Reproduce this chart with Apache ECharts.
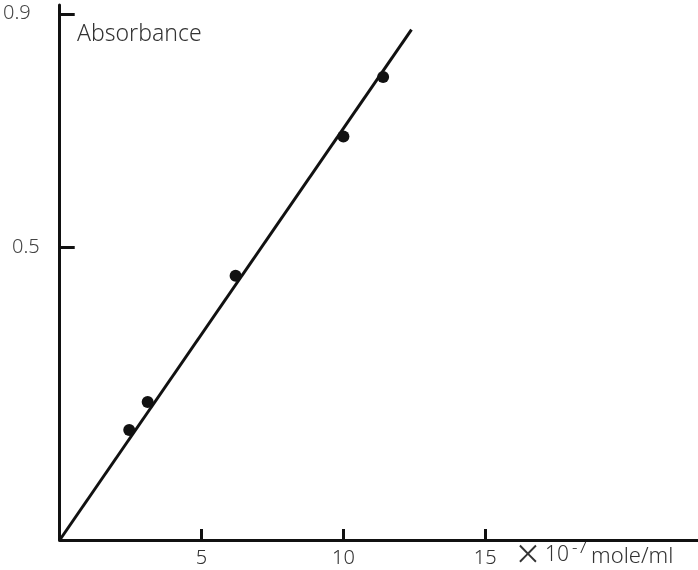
<!DOCTYPE html>
<html><head><meta charset="utf-8">
<script src="https://cdn.jsdelivr.net/npm/echarts@6/dist/echarts.min.js"></script>
<style>html,body{margin:0;padding:0;background:#fff}#c{width:698px;height:570px}</style>
</head><body><div id="c"></div>
<script>
// concentration (×10^-7 mole/ml) and absorbance
const concentration = [2.45, 3.1, 6.2, 10.0, 11.4];
const absorbance = [0.188, 0.236, 0.452, 0.69, 0.792];
const fitLine = [[0, 0], [12.4, 0.873]];
const xTicks = [5, 10, 15];
const yTicks = [0.5, 0.9];

const chart = echarts.init(document.getElementById('c'));
const font = '"Noto Sans", sans-serif';
const txt = { fill: '#333', fontFamily: font, fontWeight: 300 };
chart.setOption({
  backgroundColor: '#fff',
  animation: false,
  grid: { left: 58, right: 0, top: 5, bottom: 30 },
  xAxis: {
    type: 'value', min: 0, max: 22.5,
    splitLine: { show: false },
    axisLine: { lineStyle: { color: '#111', width: 3 } },
    axisTick: { inside: true, length: 11, customValues: xTicks, lineStyle: { color: '#111', width: 3 } },
    axisLabel: { customValues: xTicks, margin: 8, fontSize: 20, color: '#333', fontFamily: font, fontWeight: 300 }
  },
  yAxis: {
    type: 'value', min: 0, max: 0.915,
    splitLine: { show: false },
    axisLine: { lineStyle: { color: '#111', width: 3 } },
    axisTick: { inside: true, length: 15, customValues: yTicks, lineStyle: { color: '#111', width: 3 } },
    axisLabel: {
      customValues: yTicks, margin: 20, fontSize: 20, color: '#444', fontFamily: font, fontWeight: 300,
      formatter: v => (v > 0.8 ? '{a|' + v + '}' : String(v)),
      rich: { a: { fontSize: 20, color: '#444', fontFamily: font, fontWeight: 300, padding: [0, 9, 0, 0] } }
    }
  },
  series: [
    { type: 'line', data: fitLine, symbol: 'none', lineStyle: { color: '#111', width: 3 }, z: 2 },
    { type: 'scatter', data: concentration.map((x, i) => [x, absorbance[i]]), symbol: 'circle', symbolSize: 12,
      itemStyle: { color: '#111', opacity: 1 }, z: 3 }
  ],
  graphic: [
    { type: 'text', left: 77, top: 23, style: Object.assign({ text: 'Absorbance', fontSize: 23 }, txt) },
    { type: 'text', x: 528, y: 557, style: Object.assign({ text: '×', fontSize: 40, align: 'center', verticalAlign: 'middle' }, txt) },
    { type: 'text', x: 545, y: 566, style: Object.assign({ text: '10', fontSize: 21, verticalAlign: 'bottom' }, txt) },
    { type: 'text', x: 572, y: 540, style: Object.assign({ text: '-7', fontSize: 17, verticalAlign: 'top' }, txt) },
    { type: 'text', x: 591, y: 568, style: Object.assign({ text: 'mole/ml', fontSize: 22, verticalAlign: 'bottom' }, txt) }
  ]
});
</script></body></html>
